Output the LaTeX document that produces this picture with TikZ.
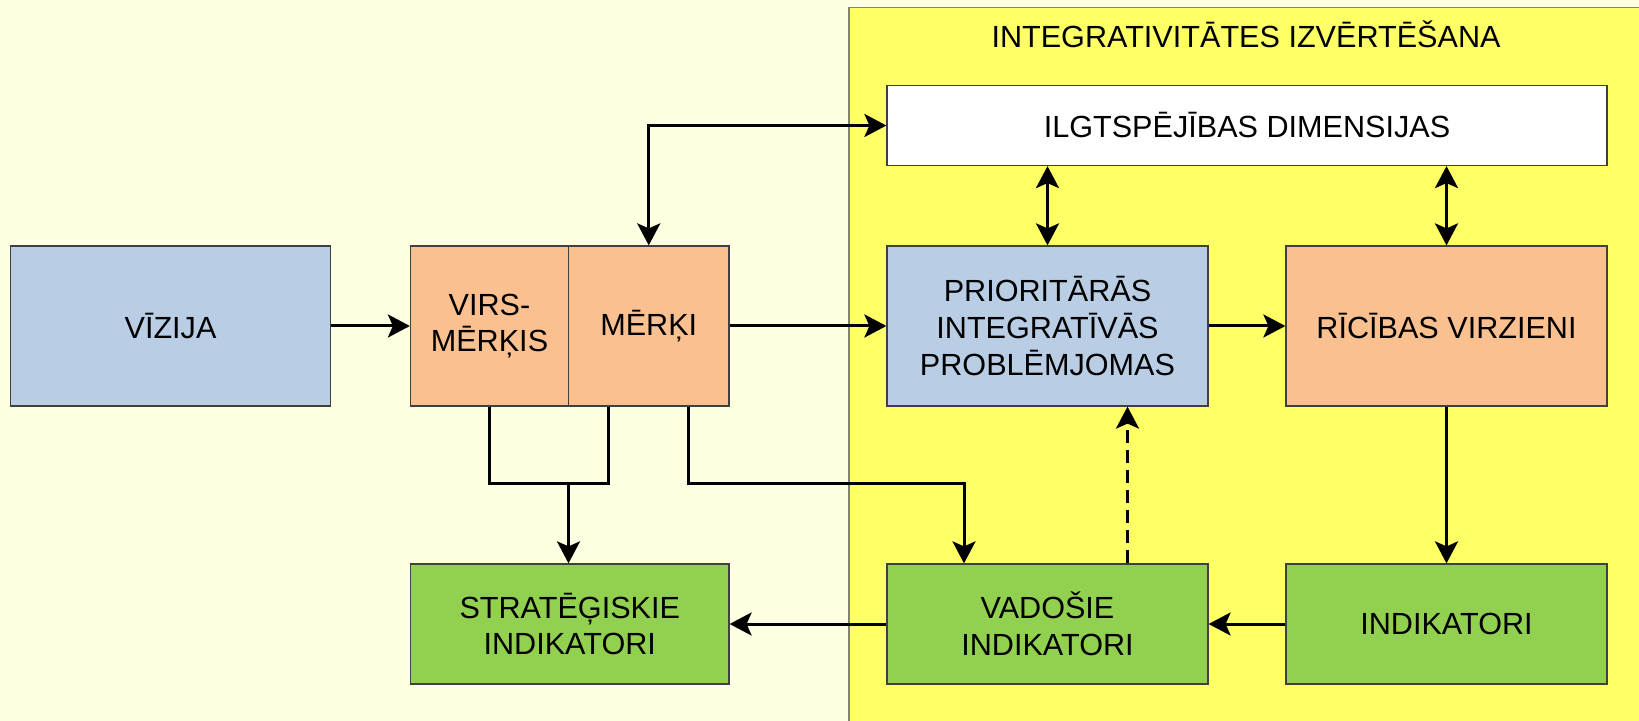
\documentclass[tikz,border=0pt]{standalone}
\usepackage{fontspec}
\setmainfont{Liberation Sans}
\usetikzlibrary{arrows.meta}

\definecolor{bgcustom}{RGB}{255,255,225}
\definecolor{yellowcustom}{RGB}{255,255,102}
\definecolor{bluecustom}{RGB}{185,205,229}
\definecolor{orangecustom}{RGB}{250,192,144}
\definecolor{greencustom}{RGB}{146,208,80}
\definecolor{bordercustom}{RGB}{64,64,64}

\tikzset{
  stagebox/.style={draw=bordercustom, line width=0.6pt, rectangle, align=center, inner sep=0pt,
    font=\fontsize{15.3}{18.4}\selectfont},
  link/.style={line width=1.5pt, ->},
  >={Stealth[length=11pt,width=11.5pt,inset=2.5pt]},
}

\begin{document}
\begin{tikzpicture}[x=0.5pt, y=-0.5pt]
        \useasboundingbox (0,0) rectangle (1639,721);
        % Background and the evaluation area
        \fill[bgcustom] (0,0) rectangle (1639,721);
        \draw[fill=yellowcustom, draw=gray, line width=0.6pt] (849,7.5) rectangle (1660,740);
        \node[font=\fontsize{15.3}{18.4}\selectfont] (title) at (1246,34) {INTEGRATIVITĀTES IZVĒRTĒŠANA};

        % Define the boxes
        \node[stagebox, fill=bluecustom, minimum width=159.75pt, minimum height=80pt] (vizija) at (170.5,326) {VĪZIJA};
        \node[stagebox, fill=orangecustom, minimum width=79pt, minimum height=80pt] (virs) at (489.5,326) {VIRS-\\MĒRĶIS};
        \node[stagebox, fill=orangecustom, minimum width=80.25pt, minimum height=80pt] (merki) at (648.75,326) {MĒRĶI};
        \node[stagebox, fill=white, minimum width=360pt, minimum height=40pt] (dim) at (1247,125.5) {ILGTSPĒJĪBAS DIMENSIJAS};
        \node[stagebox, fill=bluecustom, minimum width=160.5pt, minimum height=80pt] (prob) at (1047.5,326) {PRIORITĀRĀS\\INTEGRATĪVĀS\\PROBLĒMJOMAS};
        \node[stagebox, fill=orangecustom, minimum width=160.5pt, minimum height=80pt] (ricibas) at (1446.5,326) {RĪCĪBAS VIRZIENI};
        \node[stagebox, fill=greencustom, minimum width=159.25pt, minimum height=60pt] (strat) at (569.75,624) {STRATĒĢISKIE\\INDIKATORI};
        \node[stagebox, fill=greencustom, minimum width=160.5pt, minimum height=60pt] (vados) at (1047.5,624) {VADOŠIE\\INDIKATORI};
        \node[stagebox, fill=greencustom, minimum width=160.5pt, minimum height=60pt] (indik) at (1446.5,624) {INDIKATORI};

        % Main flow
        \draw[link] (vizija) -- (virs);
        \draw[link] (merki) -- (prob);
        \draw[link] (prob) -- (ricibas);
        \draw[link] (ricibas) -- (indik);
        \draw[link] (indik) -- (vados);
        \draw[link] (vados) -- (strat);

        % Links to the dimensions
        \draw[link, <->] (prob.north) -- (prob.north |- dim.south);
        \draw[link, <->] (ricibas.north) -- (ricibas.north |- dim.south);
        \draw[link, <->] (merki.north) |- (dim.west);

        % Goals down to the indicators
        \coordinate (join) at (568.5,484);
        \coordinate (vin) at ([xshift=-41.75pt]vados.north);
        \coordinate (vout) at ([xshift=40pt]vados.north);
        \draw[line width=1.5pt] (virs.south) |- (join) -| ([xshift=-20pt]merki.south);
        \draw[link] (join) -- (join |- strat.north);
        \draw[link] ([xshift=20pt]merki.south) |- (vin |- join) -- (vin);
        \draw[link, dash pattern=on 6.5pt off 3.5pt] (vout) -- (vout |- prob.south);
    \end{tikzpicture}
\end{document}
